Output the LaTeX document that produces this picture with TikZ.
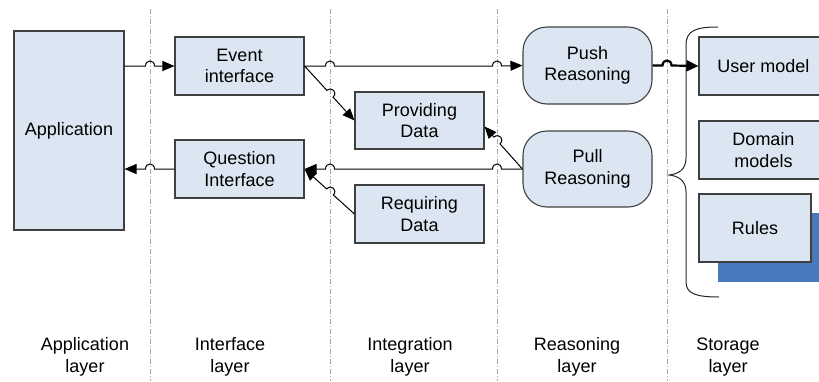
\documentclass[tikz,border=0pt]{standalone}
\usepackage{fontspec}
\setmainfont{Liberation Sans}
\usetikzlibrary{arrows.meta,calc}
\definecolor{boxfill}{RGB}{220,230,242}
\definecolor{boxline}{RGB}{64,64,64}
\definecolor{darkblue}{RGB}{74,122,190}
\definecolor{sepgray}{RGB}{165,165,165}
\begin{document}
\begin{tikzpicture}[x=1pt,y=-1pt,
  every node/.style={font=\fontsize{18}{21.5}\selectfont},
  box/.style={draw=boxline,fill=boxfill,line width=1.1pt,inner sep=0pt,align=center},
  rbox/.style={box,rounded corners=24pt},
  conn/.style={draw,line width=1pt,-{Triangle[length=12pt,width=10pt]}},
  connr/.style={draw,line width=1pt,{Triangle[length=12pt,width=10pt]}-},
  jump/.style={relative,out=90,in=90,looseness=1.9},
  sep/.style={draw=sepgray,line width=0.8pt,dash pattern=on 5pt off 2pt on 1pt off 2pt},
  lab/.style={align=center}]
\useasboundingbox (0,0) rectangle (819,381);
\clip (0,0) rectangle (819,381);
% layer separators
\foreach \x/\n in {150/s1,330/s2,497/s3,667/s4} {
  \coordinate (\n t) at (\x,9);
  \coordinate (\n b) at (\x,381);
  \draw[sep] (\n t) -- (\n b);
}
% nodes
\node[box,minimum width=110pt,minimum height=199pt] (app) at (69,130.5) {Application};
\node[box,minimum width=129pt,minimum height=58pt] (ev) at (239.5,66) {Event\\interface};
\node[box,minimum width=129pt,minimum height=58pt] (qi) at (239.5,169) {Question\\Interface};
\node[box,minimum width=129pt,minimum height=57pt] (pd) at (419.5,120.5) {Providing\\Data};
\node[box,minimum width=129pt,minimum height=58pt] (rd) at (419.5,214) {Requiring\\Data};
\node[rbox,minimum width=129pt,minimum height=77pt] (push) at (587.5,65.5) {Push\\Reasoning};
\node[rbox,minimum width=129pt,minimum height=76pt] (pull) at (587.5,169) {Pull\\Reasoning};
\fill[darkblue] (718,213) rectangle (840,282);
\node[box,minimum width=129pt,minimum height=58pt] (um) at (763.5,66) {User model};
\node[box,minimum width=129pt,minimum height=58pt] (dm) at (763.5,150) {Domain\\models};
\node[box,minimum width=112pt,minimum height=68pt] (ru) at (755,228) {Rules};
% brace
\draw[line width=1pt,black!85] (718,27) .. controls (697,27) and (686,30) .. (686,45)
  -- (686,158) .. controls (686,170) and (678,174) .. (669,175)
  .. controls (678,176) and (686,180) .. (686,192)
  -- (686,282) .. controls (686,294) and (697,297) .. (719,297);
% layer labels
\node[lab] (l1) at (85,357) {Application\\layer};
\node[lab] (l2) at (230,357) {Interface\\layer};
\node[lab] (l3) at (410,357) {Integration\\layer};
\node[lab] (l4) at (577,357) {Reasoning\\layer};
\node[lab] (l5) at (728,357) {Storage\\layer};
% connectors
\draw[conn] (app.east |- ev.west) -- ($(s1t |- ev.west)+(-4.5,0)$) to[jump] ++(9,0) -- (ev.west);
\draw[connr] (app.east |- qi.west) -- ($(s1t |- qi.west)+(-4.5,0)$) to[jump] ++(9,0) -- (qi.west);
\draw[conn] (ev.east) -- ($(s2t |- ev.east)+(-4.5,0)$) to[jump] ++(9,0)
  -- ($(s3t |- ev.east)+(-4.5,0)$) to[jump] ++(9,0) -- (push.west);
\coordinate (x1) at (intersection of ev.east--pd.west and s2t--s2b);
\draw[conn] (ev.east) -- ($(x1)!4.5pt!(ev.east)$) to[jump] ($(x1)!4.5pt!(pd.west)$) -- (pd.west);
\draw[connr] (qi.east) -- ($(s2t |- qi.east)+(-4.5,0)$) to[jump] ++(9,0)
  -- ($(s3t |- qi.east)+(-4.5,0)$) to[jump] ++(9,0) -- (pull.west);
\coordinate (pdin) at ($(pd.east)+(0,6)$);
\coordinate (x2) at (intersection of pdin--pull.west and s3t--s3b);
\draw[connr] (pdin) -- ($(x2)!4.5pt!(pdin)$) to[jump] ($(x2)!4.5pt!(pull.west)$) -- (pull.west);
\coordinate (x3) at (intersection of qi.east--rd.west and s2t--s2b);
\draw[connr] (qi.east) -- ($(x3)!4.5pt!(qi.east)$) to[jump] ($(x3)!4.5pt!(rd.west)$) -- (rd.west);
\draw[line width=2.2pt,-{Triangle[length=12pt,width=11pt]}] (push.east) -- ($(s4t |- push.east)+(-4.5,0)$) to[jump] ++(9,0) -- (um.west);
\end{tikzpicture}
\end{document}
